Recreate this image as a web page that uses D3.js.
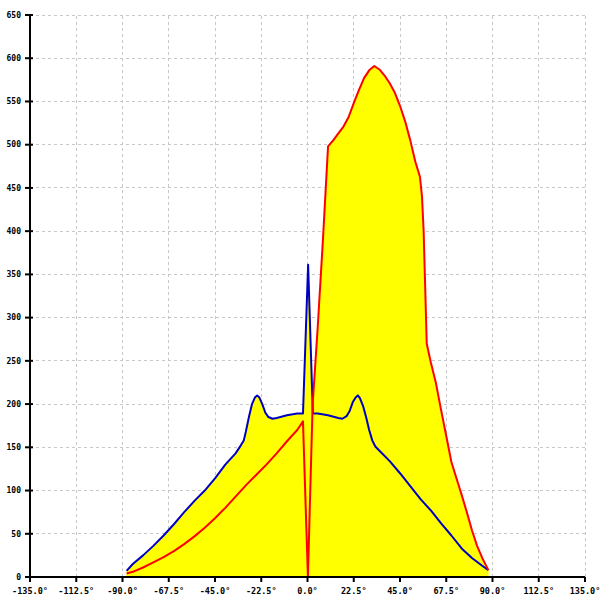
<!DOCTYPE html>
<html><head><meta charset="utf-8">
<script src="https://cdn.jsdelivr.net/npm/d3@7"></script>
<style>body{margin:0;background:#fff}</style>
</head><body>
<svg id="c" width="600" height="600"></svg>
<script>
const xTicks = [-135,-112.5,-90,-67.5,-45,-22.5,0,22.5,45,67.5,90,112.5,135];
const yTicks = [0,50,100,150,200,250,300,350,400,450,500,550,600,650];

const redAngles = [-88,-85,-80,-75,-70,-65,-60,-55,-50,-45,-40,-35,-30,-25,-20,-15,-10,-5,-2.2,0.2,2.5,5,7.5,10,12.5,15,17.5,20,22.5,25,27.5,30,32.5,35,37.5,40,42.5,45,47.5,50,52.5,54.7,55.7,56.5,57.2,58,60,62.5,65,67.5,70,72.5,75,77.5,80,82.5,85,88];
const redValues = [4,6,11,17,23,30,38,47,57,68,80,93,106,118,130,143,157,170,180,0,200,290,390,498,505,513,521,532,548,563,577,586,591,587,580,571,560,545,527,505,480,463,440,400,340,270,248,224,193,163,133,114,95,75,54,36,22,8];

const blueAngles = [-88,-85,-80,-75,-70,-65,-60,-55,-50,-45,-40,-35,-32.5,-31,-30,-28.5,-27,-25.5,-24.5,-23.5,-22,-20.5,-19,-17,-15,-10,-5,-2.2,0.3,2.6,5,10,15,17,19,20.5,22,23.5,24.5,25.5,27,28.5,30,31.5,33,35,40,45,50,55,60,65,70,75,80,85,88];
const blueValues = [7,15,25,36,48,61,75,88,100,114,130,143,152,158,168,185,200,208,210,208,200,190,185,183,184,187,189,189,361,189,189,187,184,183,186,192,202,208,210,207,198,185,170,158,151,146,134,120,105,90,77,62,48,33,22,13,8];

const svg = d3.select('#c');
const x = d3.scaleLinear().domain([-135,135]).range([30,585]);
const y = d3.scaleLinear().domain([0,650]).range([577,15]);

// grid
svg.append('g').selectAll('line').data(xTicks.slice(1)).join('line')
  .attr('x1',d=>x(d)).attr('x2',d=>x(d)).attr('y1',y(0)).attr('y2',y(650))
  .attr('stroke','#c8c8c8').attr('stroke-dasharray','3,3').attr('stroke-width',1).attr('shape-rendering','crispEdges');
svg.append('g').selectAll('line').data(yTicks.slice(1)).join('line')
  .attr('x1',x(-135)).attr('x2',x(135)).attr('y1',d=>y(d)).attr('y2',d=>y(d))
  .attr('stroke','#c8c8c8').attr('stroke-dasharray','3,3').attr('stroke-width',1).attr('shape-rendering','crispEdges');

const red = redAngles.map((a,i)=>[a,redValues[i]]);
const blue = blueAngles.map((a,i)=>[a,blueValues[i]]);

const area = d3.area().x(d=>x(d[0])).y0(y(0)).y1(d=>y(d[1]));
const line = d3.line().x(d=>x(d[0])).y(d=>y(d[1]));

svg.append('path').attr('d',area(blue)).attr('fill','#ffff00');
svg.append('path').attr('d',area(red)).attr('fill','#ffff00');
svg.append('path').attr('d',line(blue)).attr('fill','none').attr('stroke','#0000c0').attr('stroke-width',2).attr('stroke-linejoin','round');
svg.append('path').attr('d',line(red)).attr('fill','none').attr('stroke','#ff0000').attr('stroke-width',2).attr('stroke-linejoin','round');

// axes
const ax = svg.append('g');
ax.append('line').attr('x1',x(-135)).attr('x2',x(135)).attr('y1',y(0)).attr('y2',y(0)).attr('stroke','#000').attr('stroke-width',2);
ax.append('line').attr('x1',x(-135)).attr('x2',x(-135)).attr('y1',y(0)).attr('y2',y(650)).attr('stroke','#000').attr('stroke-width',2);
ax.selectAll('.xt').data(xTicks).join('line').attr('class','xt')
  .attr('x1',d=>x(d)).attr('x2',d=>x(d)).attr('y1',y(0)).attr('y2',y(0)+5)
  .attr('stroke','#000').attr('stroke-width',2);
ax.selectAll('.yt').data(yTicks).join('line').attr('class','yt')
  .attr('x1',x(-135)-5).attr('x2',x(-135)+3).attr('y1',d=>y(d)).attr('y2',d=>y(d))
  .attr('stroke','#000').attr('stroke-width',2);
ax.selectAll('.xl').data(xTicks).join('text').attr('class','xl')
  .attr('x',d=>x(d)).attr('y',593.5).attr('text-anchor','middle')
  .attr('font-family','DejaVu Sans Mono').attr('font-weight','bold').attr('font-size','8.5px').attr('fill','#000')
  .text(d=>d.toFixed(1)+'°');
ax.selectAll('.yl').data(yTicks).join('text').attr('class','yl')
  .attr('x',21).attr('y',d=>y(d)).attr('dy','0.35em').attr('text-anchor','end')
  .attr('font-family','DejaVu Sans Mono').attr('font-weight','bold').attr('font-size','8px').attr('fill','#000')
  .text(d=>d);
</script>
</body></html>
